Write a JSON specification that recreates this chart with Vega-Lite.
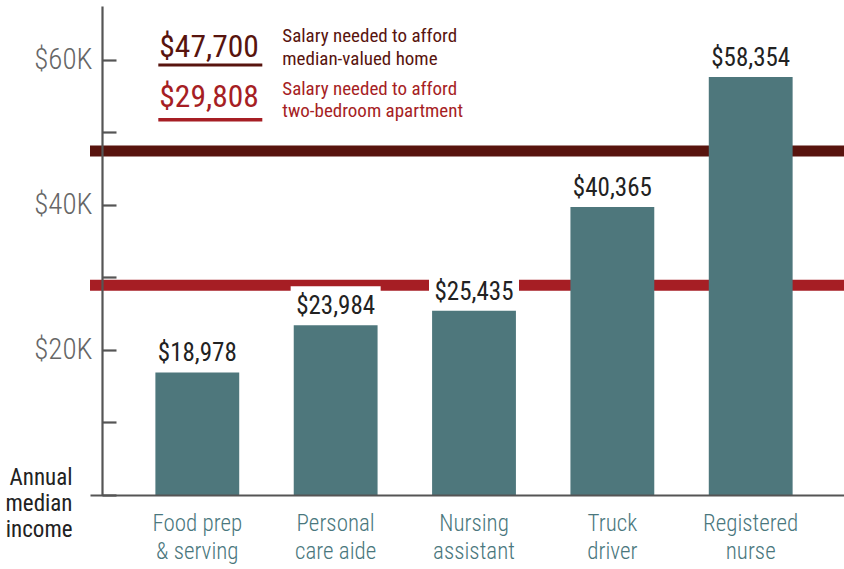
{
  "$schema": "https://vega.github.io/schema/vega-lite/v6.json",
  "width": 754,
  "height": 489,
  "autosize": {"type": "none"},
  "padding": {"left": 90, "top": 6, "right": 0, "bottom": 74},
  "background": "white",
  "config": {
    "font": "Roboto Condensed, DejaVu Sans Condensed, sans-serif",
    "view": {"stroke": null},
    "axis": {"grid": false}
  },
  "datasets": {
    "jobs": [
      {"job": "Food prep\n& serving", "income": 16900, "label": "$18,978"},
      {"job": "Personal\ncare aide", "income": 23400, "label": "$23,984"},
      {"job": "Nursing\nassistant", "income": 25400, "label": "$25,435"},
      {"job": "Truck\ndriver", "income": 39700, "label": "$40,365"},
      {"job": "Registered\nnurse", "income": 57600, "label": "$58,354"}
    ],
    "thresholds": [
      {"label": "$47,700", "need": "Salary needed to afford\nmedian-valued home", "income": 47400},
      {"label": "$29,808", "need": "Salary needed to afford\ntwo-bedroom apartment", "income": 28900}
    ]
  },
  "layer": [
    {
      "data": {"name": "thresholds"},
      "mark": {"type": "rule", "strokeWidth": 11},
      "encoding": {
        "y": {"field": "income", "type": "quantitative", "scale": {"domain": [0, 67400], "nice": false, "zero": true}},
        "color": {"field": "label", "type": "nominal", "scale": {"domain": ["$47,700", "$29,808"], "range": ["#58140e", "#a61e24"]}, "legend": null}
      }
    },
    {
      "data": {"name": "jobs"},
      "mark": {"type": "bar", "color": "white", "width": 90, "y2Offset": -39},
      "encoding": {
        "x": {"field": "job", "type": "nominal", "sort": null, "scale": {"paddingInner": 0.394, "paddingOuter": 0.422, "align": 0.56}},
        "y": {"field": "income", "type": "quantitative", "scale": {"domain": [0, 67400], "nice": false, "zero": true}},
        "y2": {"field": "income"}
      }
    },
    {
      "data": {"name": "jobs"},
      "mark": {"type": "bar", "color": "#4e777c"},
      "encoding": {
        "x": {
          "field": "job", "type": "nominal", "sort": null,
          "scale": {"paddingInner": 0.394, "paddingOuter": 0.422, "align": 0.56},
          "axis": {
            "title": null, "labelExpr": "split(datum.label, '\\n')", "labelAngle": 0, "labelAlign": "center", "ticks": false,
            "domainColor": "#555555", "domainWidth": 2.2, "labelFontSize": 23, "labelFontWeight": 300, "labelColor": "#4a777d",
            "labelLineHeight": 28, "labelPadding": 35, "labelBaseline": "alphabetic", "zindex": 1
          }
        },
        "y": {
          "field": "income", "type": "quantitative",
          "scale": {"domain": [0, 67400], "nice": false, "zero": true},
          "axis": {
            "title": ["Annual", "median", "income"],
            "values": [0, 10000, 20000, 30000, 40000, 50000, 60000],
            "labelExpr": "datum.value > 0 && datum.value % 20000 == 0 ? '$' + (datum.value / 1000) + 'K' : ''",
            "tickSize": -14, "tickWidth": 2.2, "tickColor": "#555555",
            "domainColor": "#555555", "domainWidth": 2.2,
            "labelFontSize": 29, "labelFontWeight": 300, "labelColor": "#666666", "labelPadding": 24,
            "offset": -12, "zindex": 1,
            "titleAngle": 0, "titleAlign": "right", "titleBaseline": "alphabetic",
            "titleX": -30, "titleY": 478, "titleFontSize": 23, "titleFontWeight": "normal",
            "titleColor": "#222222", "titleLineHeight": 26
          }
        }
      }
    },
    {
      "data": {"name": "jobs"},
      "mark": {"type": "text", "baseline": "alphabetic", "dy": -11, "fontSize": 25, "color": "#222222"},
      "encoding": {
        "x": {"field": "job", "type": "nominal", "sort": null, "scale": {"paddingInner": 0.394, "paddingOuter": 0.422, "align": 0.56}},
        "y": {"field": "income", "type": "quantitative", "scale": {"domain": [0, 67400], "nice": false, "zero": true}},
        "text": {"field": "label"}
      }
    },
    {
      "data": {"name": "thresholds"},
      "transform": [{"filter": "datum.label == '$47,700'"}],
      "mark": {"type": "text", "align": "left", "baseline": "alphabetic", "dx": -38, "fontSize": 31.5, "color": "#58140e"},
      "encoding": {
        "x": {"datum": "Food prep\n& serving", "type": "nominal"},
        "y": {"datum": 60410, "type": "quantitative"},
        "text": {"field": "label"}
      }
    },
    {
      "data": {"name": "thresholds"},
      "transform": [{"filter": "datum.label == '$47,700'"}],
      "mark": {"type": "tick", "thickness": 3.2, "size": 104, "xOffset": 13, "color": "#58140e", "opacity": 1},
      "encoding": {
        "x": {"datum": "Food prep\n& serving", "type": "nominal"},
        "y": {"datum": 59270, "type": "quantitative"}
      }
    },
    {
      "data": {"name": "thresholds"},
      "transform": [{"filter": "datum.label == '$47,700'"}],
      "mark": {"type": "text", "align": "left", "baseline": "alphabetic", "dx": 85, "fontSize": 19, "lineBreak": "\n", "lineHeight": 23, "color": "#58140e"},
      "encoding": {
        "x": {"datum": "Food prep\n& serving", "type": "nominal"},
        "y": {"datum": 62480, "type": "quantitative"},
        "text": {"field": "need"}
      }
    },
    {
      "data": {"name": "thresholds"},
      "transform": [{"filter": "datum.label == '$29,808'"}],
      "mark": {"type": "text", "align": "left", "baseline": "alphabetic", "dx": -38, "fontSize": 31.5, "color": "#a61e24"},
      "encoding": {
        "x": {"datum": "Food prep\n& serving", "type": "nominal"},
        "y": {"datum": 53520, "type": "quantitative"},
        "text": {"field": "label"}
      }
    },
    {
      "data": {"name": "thresholds"},
      "transform": [{"filter": "datum.label == '$29,808'"}],
      "mark": {"type": "tick", "thickness": 3.4, "size": 104, "xOffset": 13, "color": "#a61e24", "opacity": 1},
      "encoding": {
        "x": {"datum": "Food prep\n& serving", "type": "nominal"},
        "y": {"datum": 51730, "type": "quantitative"}
      }
    },
    {
      "data": {"name": "thresholds"},
      "transform": [{"filter": "datum.label == '$29,808'"}],
      "mark": {"type": "text", "align": "left", "baseline": "alphabetic", "dx": 85, "fontSize": 19, "lineBreak": "\n", "lineHeight": 22, "color": "#a61e24"},
      "encoding": {
        "x": {"datum": "Food prep\n& serving", "type": "nominal"},
        "y": {"datum": 55130, "type": "quantitative"},
        "text": {"field": "need"}
      }
    }
  ]
}
